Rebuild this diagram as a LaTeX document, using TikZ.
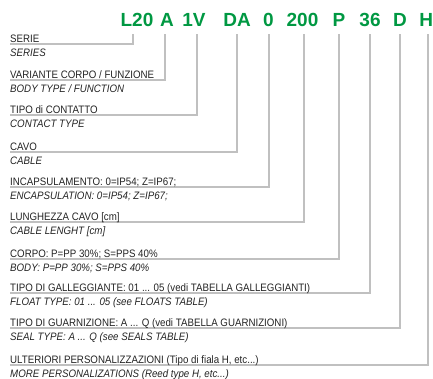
\documentclass[tikz,border=0pt]{standalone}
\usepackage{fontspec}
\setmainfont{Liberation Sans}
\newfontfamily\labfont{Liberation Sans}[FakeStretch=0.9]
\definecolor{codegreen}{RGB}{0,152,66}
\definecolor{linegray}{RGB}{192,192,192}
\definecolor{txt}{RGB}{35,35,35}
\begin{document}
\begin{tikzpicture}[x=1pt,y=-1pt,
  lab/.style={anchor=base west, inner sep=0pt, font=\labfont\fontsize{10.8}{12}\selectfont, text=txt},
  labe/.style={anchor=base west, inner sep=0pt, font=\labfont\itshape\fontsize{10.8}{12}\selectfont, text=txt},
  code/.style={anchor=base, inner sep=0pt, font=\bfseries\fontsize{19}{22}\selectfont, text=codegreen},
  conn/.style={draw=linegray, line width=1.5pt}]
\useasboundingbox (0,0) rectangle (433,379);
% code parts
\node[code] (k1) at (137,27) {L20};
\node[code] (k2) at (167,27) {A};
\node[code] (k3) at (194,27) {1V};
\node[code] (k4) at (237,27) {DA};
\node[code] (k5) at (268.5,27) {0};
\node[code] (k6) at (302.5,27) {200};
\node[code] (k7) at (339,27) {P};
\node[code] (k8) at (370,27) {36};
\node[code] (k9) at (400,27) {D};
\node[code] (k10) at (426.2,27) {H};
% connector ends
\coordinate (t1) at (133,34);  \coordinate (s1) at (10,44);
\coordinate (t2) at (165,34);  \coordinate (s2) at (10,80);
\coordinate (t3) at (197,34);  \coordinate (s3) at (10,115);
\coordinate (t4) at (237,34);  \coordinate (s4) at (10,152);
\coordinate (t5) at (269,34);  \coordinate (s5) at (10,187);
\coordinate (t6) at (304,34);  \coordinate (s6) at (10,222);
\coordinate (t7) at (339,34);  \coordinate (s7) at (10,259);
\coordinate (t8) at (370,34);  \coordinate (s8) at (10,293);
\coordinate (t9) at (400,34);  \coordinate (s9) at (10,328);
\coordinate (t10) at (428,34); \coordinate (s10) at (10,365);
\foreach \i in {1,...,10}{\draw[conn] (s\i) -| (t\i);}
% labels
\node[lab] (a1) at (10,42.2) {SERIE};
\node[labe] (b1) at (10,56.8) {SERIES};
\node[lab] (a2) at (10,78.2) {VARIANTE CORPO / FUNZIONE};
\node[labe] (b2) at (10,92.8) {BODY TYPE / FUNCTION};
\node[lab] (a3) at (10,113.2) {TIPO di CONTATTO};
\node[labe] (b3) at (10,127.8) {CONTACT TYPE};
\node[lab] (a4) at (10,150.2) {CAVO};
\node[labe] (b4) at (10,164.8) {CABLE};
\node[lab] (a5) at (10,185.2) {INCAPSULAMENTO: 0=IP54; Z=IP67;};
\node[labe] (b5) at (10,199.8) {ENCAPSULATION: 0=IP54; Z=IP67;};
\node[lab] (a6) at (10,220.2) {LUNGHEZZA CAVO [cm]};
\node[labe] (b6) at (10,234.8) {CABLE LENGHT [cm]};
\node[lab] (a7) at (10,257.2) {CORPO: P=PP 30\%; S=PPS 40\%};
\node[labe] (b7) at (10,271.8) {BODY: P=PP 30\%; S=PPS 40\%};
\node[lab] (a8) at (10,291.2) {TIPO DI GALLEGGIANTE: 01 ... 05 (vedi TABELLA GALLEGGIANTI)};
\node[labe] (b8) at (10,305.8) {FLOAT TYPE: 01 ... 05 (see FLOATS TABLE)};
\node[lab] (a9) at (10,326.2) {TIPO DI GUARNIZIONE: A ... Q (vedi TABELLA GUARNIZIONI)};
\node[labe] (b9) at (10,340.8) {SEAL TYPE: A ... Q (see SEALS TABLE)};
\node[lab] (a10) at (10,363.2) {ULTERIORI PERSONALIZZAZIONI (Tipo di fiala H, etc...)};
\node[labe] (b10) at (10,377.8) {MORE PERSONALIZATIONS (Reed type H, etc...)};
\end{tikzpicture}
\end{document}
